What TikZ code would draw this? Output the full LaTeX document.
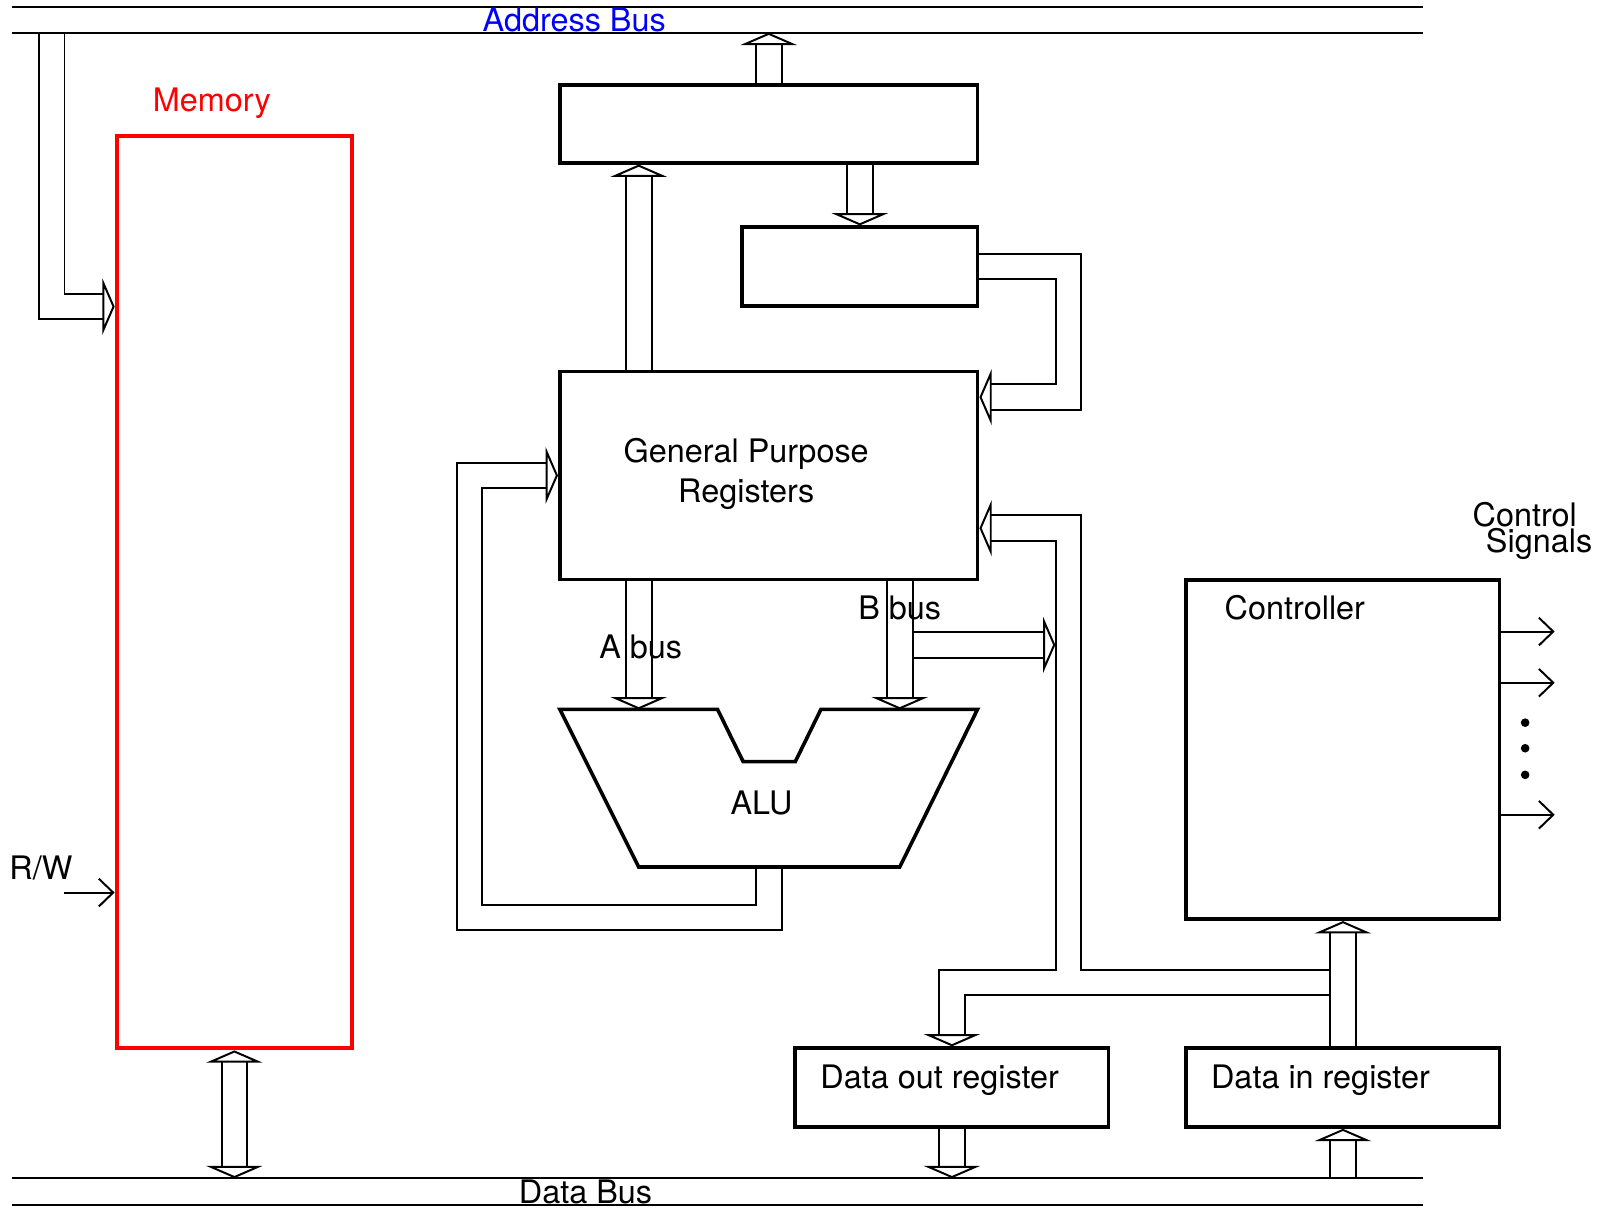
\documentclass[tikz,border=0pt]{standalone}
\usepackage{fontspec}
\setmainfont{TeX Gyre Heros}
\usetikzlibrary{arrows.meta, backgrounds}

\begin{document}
\begin{tikzpicture}[
  x=0.01cm, y=-0.01cm,
  font=\fontsize{9}{11}\selectfont,
  box/.style={draw, line width=1pt, inner sep=0pt},
  membox/.style={draw=red, line width=1.1pt, inner sep=0pt},
  lbl/.style={inner sep=0pt},
  busline/.style={line width=0.55pt},
  bus/.style={draw=black, line width=0.55pt, double=white, double distance=0.2306cm,
    -{Triangle[open, length=0.12cm, width=0.55cm]}},
  busboth/.style={bus, {Triangle[open, length=0.12cm, width=0.55cm]}-{Triangle[open, length=0.12cm, width=0.55cm]}},
  sig/.style={line width=0.55pt, -{Straight Barb[length=0.14cm, width=0.27cm]}}
]
\useasboundingbox (0,0) rectangle (1568,1182);

% address bus and data bus
\draw[busline] (12,7) -- (1390,7);
\draw[busline] (12,32) -- (1390,32);
\draw[busline] (12,1151) -- (1390,1151);
\draw[busline] (12,1177) -- (1390,1177);
\coordinate (abus) at (0,32);
\coordinate (dbus) at (0,1151);
\node[lbl, text=blue, anchor=base] (abuslbl) at (561,31) {Address Bus};
\node[lbl, anchor=base] (dbuslbl) at (572,1176) {Data Bus};

% memory
\node[membox, minimum width=2.30cm, minimum height=8.91cm] (mem) at (229,578.5) {};
\node[lbl, text=red, anchor=base] (memlbl) at (207,109) {Memory};
\node[lbl, anchor=base] (rwlbl) at (40,859) {R/W};
\coordinate (rwin) at (63,872);

% processor blocks
\node[box, minimum width=4.08cm, minimum height=0.76cm] (mar) at (751,121) {};
\node[box, minimum width=2.30cm, minimum height=0.77cm] (mdr) at (840,260.5) {};
\node[box, minimum width=4.08cm, minimum height=2.03cm] (gpr) at (751,464.5) {};
\node[lbl, align=center, font=\fontsize{9}{11.1}\selectfont] (gprlbl) at (729,463) {General Purpose\\Registers};

% ALU
\draw[box] (547,693) -- (701,693) -- (726,744) -- (777,744) -- (802,693) -- (955,693)
  -- (879,847) -- (624,847) -- cycle;
\coordinate (aluA) at (624,693);
\coordinate (aluB) at (879,693);
\coordinate (aluout) at (751,847);
\node[lbl, anchor=base] (alulbl) at (744,796) {ALU};
\node[lbl, anchor=base] (albl) at (626,643) {A bus};
\node[lbl, anchor=base] (blbl) at (879,605) {B bus};

% controller and data registers
\node[box, minimum width=3.06cm, minimum height=3.31cm] (ctrl) at (1312,732.5) {};
\node[lbl, anchor=base] (ctrllbl) at (1265,605) {Controller};
\node[box, minimum width=3.06cm, minimum height=0.77cm] (dout) at (930,1062.5) {};
\node[lbl, anchor=base] (doutlbl) at (918,1063) {Data out register};
\node[box, minimum width=3.06cm, minimum height=0.77cm] (din) at (1312,1062.5) {};
\node[lbl, anchor=base] (dinlbl) at (1290,1063) {Data in register};
\node[lbl, align=left, anchor=west, font=\fontsize{9}{7.2}\selectfont] (siglbl) at (1438,519) {Control\\\hspace*{3.7pt}Signals};

% wide buses between blocks
\begin{scope}[on background layer]
\coordinate (amem) at (50.5,32);
\draw[bus] (amem) |- (mem.west |- 0,299.5);
\draw[bus] (mar.north) -- (mar.north |- abus);
\draw[bus] (gpr.north -| aluA) -- (mar.south -| aluA);
\draw[bus] (mar.south -| mdr.north) -- (mdr.north);
\draw[bus] (mdr.east) -| (1044,388) -- (gpr.east |- 0,388);
\draw[bus] (aluout) |- (458.5,896.5) |- (gpr.west);
\coordinate (bbr) at (891,630);
\coordinate (bout) at (1031,630);
\draw[bus] (bbr) -- (bout);
\draw[bus] (gpr.south -| aluA) -- (aluA);
\draw[bus] (gpr.south -| aluB) -- (aluB);
\coordinate (split) at (1299,960);
\coordinate (tee) at (1044,948.6);
\draw[bus] (split) -| (dout.north);
\draw[bus] (tee) |- (gpr.east |- 0,516);
\draw[bus] (din.north) -- (ctrl.south);
\draw[bus] (dout.south) -- (dout.south |- dbus);
\draw[bus] (din.south |- dbus) -- (din.south);
\draw[busboth] (mem.south) -- (mem.south |- dbus);
\end{scope}

% control lines
\draw[sig] (rwin) -- (mem.west |- rwin);
\draw[sig] (ctrl.east |- 0,617) -- ++(52,0);
\draw[sig] (ctrl.east |- 0,667) -- ++(52,0);
\draw[sig] (ctrl.east |- 0,796) -- ++(52,0);
\fill (1490,706) circle[radius=1.2pt];
\fill (1490,731) circle[radius=1.2pt];
\fill (1490,757) circle[radius=1.2pt];

\end{tikzpicture}
\end{document}
